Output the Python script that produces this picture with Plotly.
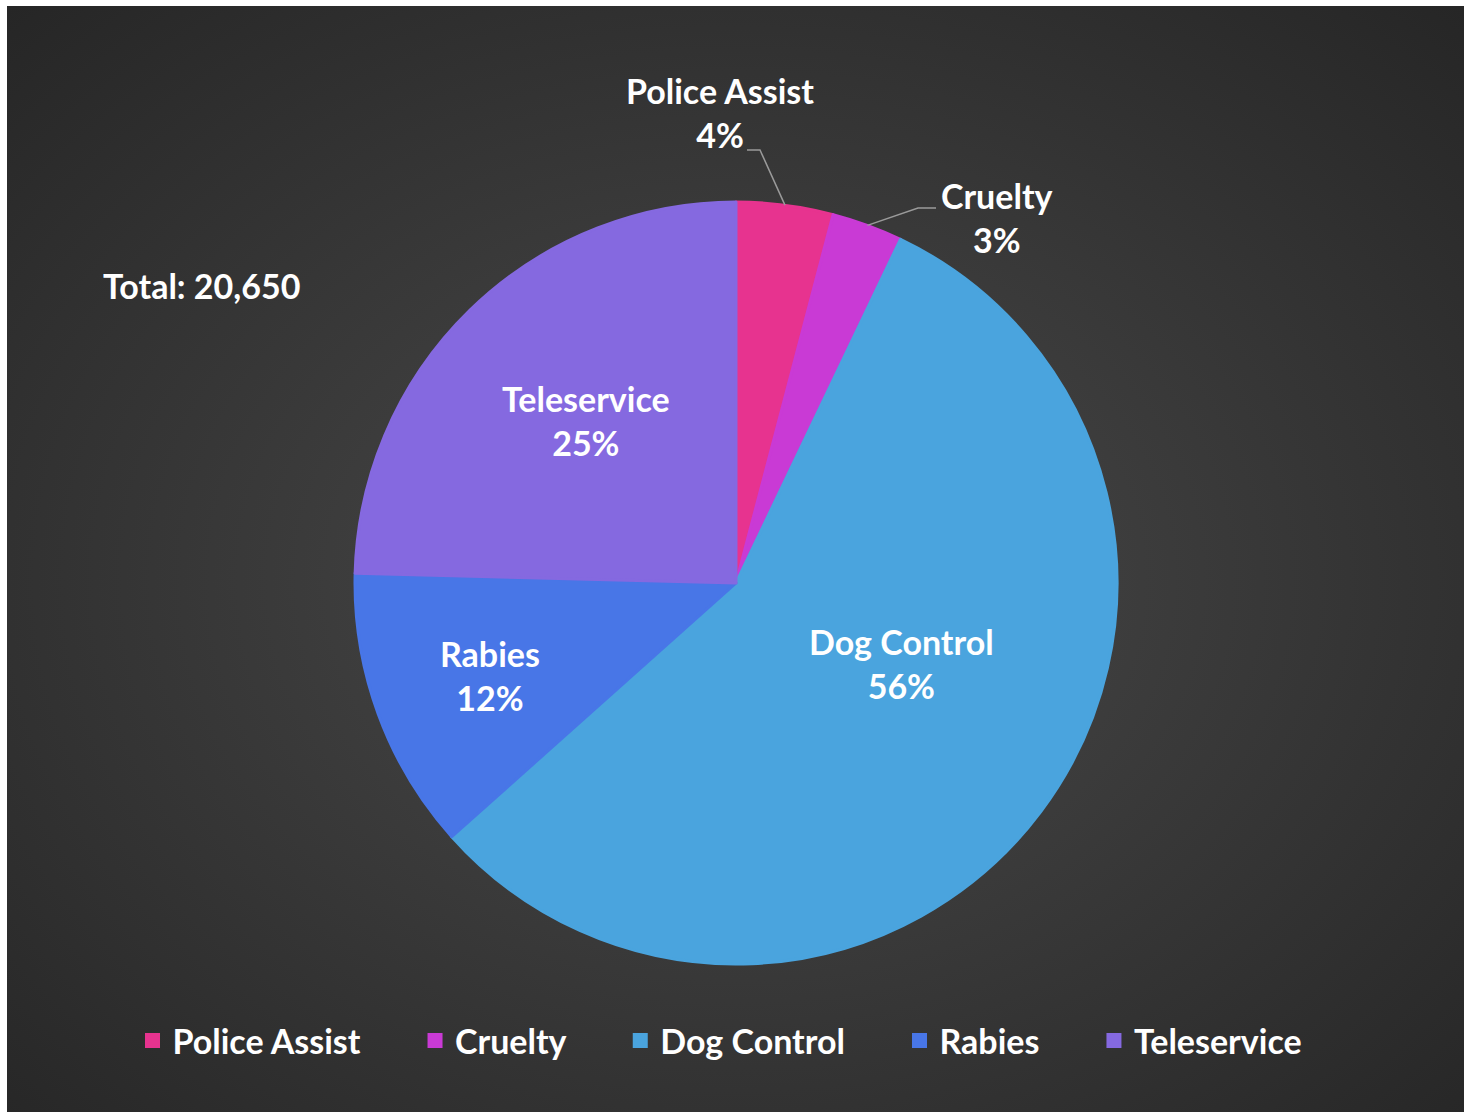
import base64
import math
import plotly.graph_objects as go

categories = ["Police Assist", "Cruelty", "Dog Control", "Rabies", "Teleservice"]
counts = [847, 620, 11626, 2478, 5079]
colors = ["#E7338F", "#C93AD5", "#4AA4DE", "#4876E7", "#8569E0"]

total = sum(counts)
W, H = 1464, 1112
FONT = "Lato"
FS = 34

# pie geometry (pixels)
CX, CY, R = 736, 583, 381


def px(x):
    return x / W


def py(y):
    return 1 - y / H


svg = f'''<svg xmlns="http://www.w3.org/2000/svg" width="{W}" height="{H}" viewBox="0 0 {W} {H}">
<defs><radialGradient id="g" cx="50%" cy="52%" r="72%">
<stop offset="0%" stop-color="#4a4a4a"/><stop offset="100%" stop-color="#262626"/>
</radialGradient></defs><rect width="{W}" height="{H}" fill="url(#g)"/></svg>'''
bg_uri = "data:image/svg+xml;base64," + base64.b64encode(svg.encode()).decode()

# legend names padded with non-breaking spaces to widen the gap between entries
legend_names = [c + "\u00a0" * 6 if i < len(categories) - 1 else c for i, c in enumerate(categories)]

fig = go.Figure(go.Pie(
    labels=legend_names,
    values=counts,
    text=categories,
    sort=False,
    direction="clockwise",
    rotation=0,
    marker=dict(colors=colors, line=dict(color=colors, width=3)),
    textinfo="none",
    hovertemplate="%{text}: %{value:,} (%{percent:.0%})<extra></extra>",
    domain=dict(x=[px(CX - R), px(CX + R)], y=[py(CY + R), py(CY - R)]),
))

# label placement (pixels); leader lines for the two small outside slices
label_layout = {
    "Police Assist": dict(label=(720, 112), elbow=(760, 150), end=(747, 150)),
    "Cruelty": dict(label=(997, 217), elbow=(918, 208), end=(936, 208)),
    "Dog Control": dict(label=(901, 663)),
    "Rabies": dict(label=(490, 675)),
    "Teleservice": dict(label=(586, 420)),
}
cum = 0
for cat, val in zip(categories, counts):
    mid = (cum + val / 2) / total * 2 * math.pi
    cum += val
    o = label_layout[cat]
    if "elbow" in o:
        ex = CX + R * math.sin(mid)
        ey = CY - R * math.cos(mid)
        fig.add_shape(
            type="path", xref="paper", yref="paper",
            path=(f"M {px(ex)} {py(ey)} L {px(o['elbow'][0])} {py(o['elbow'][1])} "
                  f"L {px(o['end'][0])} {py(o['end'][1])}"),
            line=dict(color="#9a9a9a", width=1.5),
        )
    pct = round(100 * val / total)
    fig.add_annotation(
        text=f"{cat}<br>{pct}%", xref="paper", yref="paper",
        x=px(o["label"][0]), y=py(o["label"][1]), xanchor="center", yanchor="middle",
        showarrow=False, font=dict(family=FONT, size=FS, color="white", weight="bold"),
    )

fig.add_annotation(
    text=f"Total: {total:,}", xref="paper", yref="paper",
    x=px(202), y=py(286), xanchor="center", yanchor="middle", showarrow=False,
    font=dict(family=FONT, size=FS, color="white", weight="bold"),
)

fig.update_layout(
    width=W, height=H,
    margin=dict(l=0, r=0, t=0, b=0),
    paper_bgcolor="white",
    plot_bgcolor="rgba(0,0,0,0)",
    showlegend=True,
    legend=dict(
        orientation="h", x=px(720), xanchor="center", y=py(1041), yanchor="middle",
        font=dict(family=FONT, size=FS, color="white", weight="bold"),
        bgcolor="rgba(0,0,0,0)",
    ),
    images=[dict(
        source=bg_uri, xref="paper", yref="paper",
        x=px(7), y=py(6), sizex=1 - px(7), sizey=1 - 6 / H,
        xanchor="left", yanchor="top", sizing="stretch", layer="below",
    )],
)

fig.write_html(
    "out.html",
    config={"displayModeBar": False},
    post_script="document.body.style.margin='0px';",
)
